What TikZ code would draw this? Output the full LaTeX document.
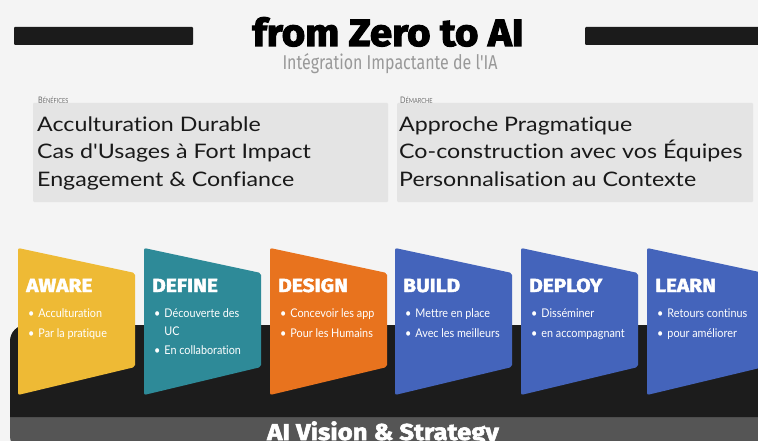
\documentclass[tikz,border=0pt]{standalone}
\usepackage{fontspec}
\setmainfont{Lato}
\newfontfamily\titlefont{Fira Sans}[BoldFeatures={FakeStretch=1.06,FakeBold=3}]
\newfontfamily\subfont{Fira Sans}[FakeStretch=0.8]
\newfontfamily\headfont{Fira Sans}[BoldFeatures={FakeStretch=1.1,FakeBold=2.2}]
\newfontfamily\visionfont{Fira Sans}[BoldFeatures={FakeStretch=1.12,FakeBold=2.5}]
\newfontfamily\boxfont{Lato}[FakeStretch=1.16,Ligatures=NoCommon]
\newfontfamily\bulfont{Lato}[FakeStretch=0.9,Ligatures=NoCommon]
\newfontfamily\labfont{Lato}[FakeStretch=0.8]
\definecolor{bg}{HTML}{F4F4F4}
\definecolor{barblack}{HTML}{1B1B1B}
\definecolor{boxgray}{HTML}{E4E4E4}
\definecolor{subgray}{HTML}{999999}
\definecolor{labgray}{HTML}{6A6A6A}
\definecolor{bandblack}{HTML}{1C1C1C}
\definecolor{bandgray}{HTML}{555555}
\definecolor{cyellow}{HTML}{EEBA35}
\definecolor{cteal}{HTML}{2E8A98}
\definecolor{corange}{HTML}{E8731E}
\definecolor{cblue}{HTML}{4464BB}
\tikzset{
  boxtext/.style={anchor=base west, inner sep=0pt, font=\boxfont\fontsize{20}{20}\selectfont, text=black!90},
  head/.style={anchor=base west, inner sep=0pt, text=white, font=\headfont\bfseries\fontsize{19}{19}\selectfont},
  bul/.style={anchor=base west, inner sep=0pt, text=white, font=\bulfont\fontsize{12}{12}\selectfont},
  lab/.style={anchor=base west, inner sep=0pt, text=labgray, font=\labfont},
  cardshape/.style={rounded corners=2pt}
}
\newcommand\stagecard[4]{%
  \fill[#2, cardshape] (#1,248) -- (#1+117,273) -- (#1+117,367) -- (#1,395) -- cycle;
  \node[head] (#3) at (#1+8,292) {#4};
}
\newcommand\bt{\textbullet\hspace{4pt}}
\newcommand\sq{{\char"0027}}
\begin{document}
\begin{tikzpicture}[x=1pt,y=-1pt]
\fill[bg] (0,0) rectangle (758,441);
\useasboundingbox (0,0) rectangle (758,441);
% title bars
\fill[barblack, rounded corners=1pt] (14,27) rectangle (193,45);
\fill[barblack, rounded corners=1pt] (585,27) rectangle (770,45);
\node[anchor=base, inner sep=0pt, font=\titlefont\bfseries\fontsize{38}{38}\selectfont] (title) at (388,46) {from Zero to AI};
\node[anchor=base, inner sep=0pt, text=subgray, font=\subfont\fontsize{20}{20}\selectfont] (sub) at (390,70) {Intégration Impactante de l\sq IA};
% labels
\node[lab] (labB) at (38,104) {\fontsize{9}{9}\selectfont B\fontsize{7}{7}\selectfont ÉNÉFICES};
\node[lab] (labD) at (400,104) {\fontsize{9}{9}\selectfont D\fontsize{7}{7}\selectfont ÉMARCHE};
% boxes
\fill[boxgray, rounded corners=1pt] (33,103) rectangle (388,202);
\fill[boxgray, rounded corners=1pt] (397,103) rectangle (753,202);
\node[boxtext] (b1) at (37,132) {Acculturation Durable};
\node[boxtext] (b2) at (37,159) {Cas d\sq Usages à Fort Impact};
\node[boxtext] (b3) at (37,186) {Engagement \& Confiance};
\node[boxtext] (d1) at (399,132) {Approche Pragmatique};
\node[boxtext] (d2) at (399,159) {Co-construction avec vos Équipes};
\node[boxtext] (d3) at (399,186) {Personnalisation au Contexte};
% bottom band
\fill[bandgray, rounded corners=16pt] (10,380) rectangle (800,452);
\fill[bandblack] (10,417) {[rounded corners=16pt] -- (10,325) -- (800,325)} -- (800,417) -- cycle;
\node[anchor=base, inner sep=0pt, text=white, font=\visionfont\bfseries\fontsize{23}{23}\selectfont] (vision) at (383,440) {AI Vision \& Strategy};
% cards
\stagecard{18}{cyellow}{aware}{AWARE}
\stagecard{144}{cteal}{define}{DEFINE}
\stagecard{270}{corange}{design}{DESIGN}
\stagecard{395}{cblue}{build}{BUILD}
\stagecard{521}{cblue}{deploy}{DEPLOY}
\stagecard{647}{cblue}{learn}{LEARN}
% bullets
\node[bul] (aw1) at (28,317) {\bt Acculturation};
\node[bul] (aw2) at (28,337) {\bt Par la pratique};
\node[bul] (de1) at (154,317) {\bt Découverte des};
\node[bul] (de2) at (154,335.5) {\hphantom{\bt}UC};
\node[bul] (de3) at (154,354) {\bt En collaboration};
\node[bul] (ds1) at (280,317) {\bt Concevoir les app};
\node[bul] (ds2) at (280,337) {\bt Pour les Humains};
\node[bul] (bu1) at (405,317) {\bt Mettre en place};
\node[bul] (bu2) at (405,337) {\bt Avec les meilleurs};
\node[bul] (dp1) at (531,317) {\bt Disséminer};
\node[bul] (dp2) at (531,337) {\bt en accompagnant};
\node[bul] (le1) at (657,317) {\bt Retours continus};
\node[bul] (le2) at (657,337) {\bt pour améliorer};
\end{tikzpicture}
\end{document}
